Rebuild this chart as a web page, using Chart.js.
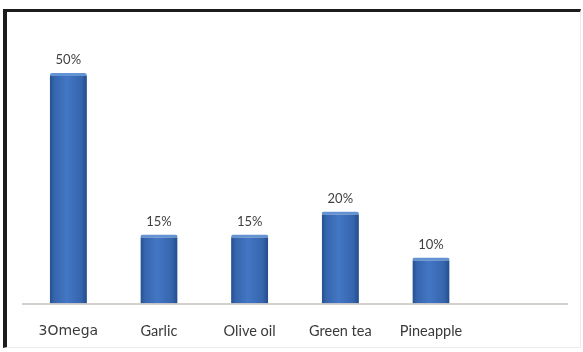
<!DOCTYPE html>
<html>
<head>
<meta charset="utf-8">
<script src="https://cdn.jsdelivr.net/npm/chart.js@4.4.1/dist/chart.umd.min.js"></script>
<style>
  html, body { margin: 0; padding: 0; background: #fff; }
  #wrap { position: relative; width: 583px; height: 352px; overflow: hidden; }
  #frame {
    position: absolute; left: 3px; top: 9px; right: 2px; bottom: 4px;
    border-top: 3px solid #1c1c1c; border-left: 4px solid #1c1c1c;
    border-right: 1px solid #ececec; border-bottom: 1px solid #ececec;
  }
  canvas { position: absolute; left: 0; top: 0; }
</style>
</head>
<body>
<div id="wrap">
  <canvas id="chart" width="583" height="352"></canvas>
  <div id="frame"></div>
</div>
<script>
// supplements, share of people using them (%)
const categories = ['3Omega', 'Garlic', 'Olive oil', 'Green tea', 'Pineapple', ''];
const shares = [50, 15, 15, 20, 10, null];

const barShare = 0.41;

// horizontal shading so each bar looks rounded
function barFill(context) {
    const chart = context.chart;
    const x = chart.scales.x;
    if (!x || context.type !== 'data') return '#3a6cb8';
    const center = x.getPixelForValue(context.dataIndex);
    const half = x.width / categories.length * barShare / 2;
    if (!isFinite(center) || !isFinite(half) || half <= 0) return '#3a6cb8';
    const g = chart.ctx.createLinearGradient(center - half, 0, center + half, 0);
    g.addColorStop(0, '#25508f');
    g.addColorStop(0.12, '#3565ad');
    g.addColorStop(0.45, '#4376c4');
    g.addColorStop(0.85, '#3565ad');
    g.addColorStop(1, '#234c8a');
    return g;
}

const valueLabels = {
    id: 'valueLabels',
    afterDatasetsDraw(chart) {
        const ctx = chart.ctx;
        const meta = chart.getDatasetMeta(0);
        ctx.save();
        ctx.font = '13px Lato';
        ctx.fillStyle = '#404040';
        ctx.textAlign = 'center';
        ctx.textBaseline = 'middle';
        meta.data.forEach((bar, i) => {
            if (shares[i] == null) return;
            ctx.fillText(shares[i] + '%', bar.x, bar.y - 13);
        });
        ctx.restore();
    }
};

new Chart(document.getElementById('chart'), {
    type: 'bar',
    data: {
        labels: categories,
        datasets: [{
            data: shares,
            backgroundColor: barFill,
            borderColor: '#6393d3',
            borderWidth: { top: 3, left: 0, right: 0, bottom: 0 },
            borderSkipped: 'bottom',
            borderRadius: { topLeft: 2, topRight: 2 },
            categoryPercentage: 1,
            barPercentage: barShare
        }]
    },
    options: {
        responsive: false,
        animation: false,
        layout: { padding: { left: 23, right: 16, top: 27, bottom: -7 } },
        plugins: { legend: { display: false }, tooltip: { enabled: false } },
        scales: {
            x: {
                grid: { display: false, drawTicks: false },
                border: { display: true, color: '#d4d0cc', width: 2 },
                ticks: {
                    padding: 19,
                    color: '#3a3a3a',
                    font: (c) => c.index === 0
                        ? { family: 'DejaVu Sans', size: 14 }
                        : { family: 'Lato', size: 14.5 }
                }
            },
            y: {
                display: false,
                min: 0,
                max: 60
            }
        }
    },
    plugins: [valueLabels]
});
</script>
</body>
</html>
